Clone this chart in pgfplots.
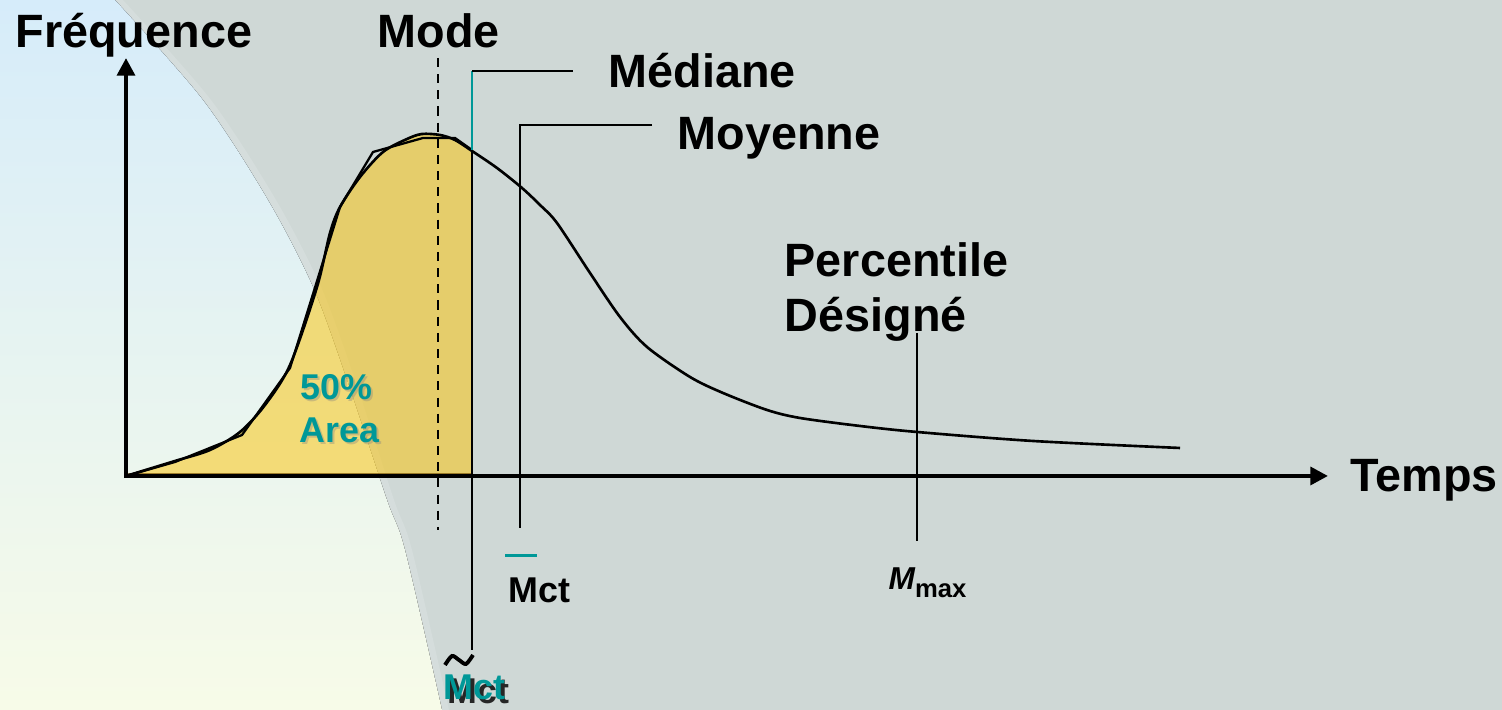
\documentclass[border=0pt]{standalone}
\usepackage{pgfplots}
\pgfplotsset{compat=1.18}
\usetikzlibrary{arrows.meta}
\usepackage{fontspec}
\setmainfont{Liberation Sans}
\definecolor{bggray}{RGB}{207,216,214}
\definecolor{bgband}{RGB}{213,221,220}
\definecolor{bgtop}{RGB}{214,236,250}
\definecolor{bgbot}{RGB}{247,251,232}
\definecolor{gold}{RGB}{251,196,10}
\definecolor{shadowbrown}{RGB}{120,85,10}
\definecolor{tealc}{RGB}{0,152,152}
\tikzset{
  big/.style={font=\fontsize{13.3}{15}\selectfont\bfseries, anchor=base west, inner sep=0pt},
  small/.style={font=\fontsize{10.2}{12}\selectfont\bfseries, anchor=base west, inner sep=0pt},
}
\begin{document}
\begin{tikzpicture}
\begin{axis}[
  width=15.02cm, height=7.1cm, scale only axis,
  xmin=0, xmax=1502, ymin=-234, ymax=476,
  hide axis, clip=false,
]
% background
\fill[bggray] (axis cs:0,-234) rectangle (axis cs:1502,476);
\fill[bgband] (axis cs:0,476) -- plot[smooth] coordinates {(123,476) (211,376) (276,276) (321,189) (355,96) (394,-24) (412,-74) (449,-234)} -- (axis cs:0,-234) -- cycle;
\fill[top color=bgtop, bottom color=bgbot] (axis cs:0,476) -- plot[smooth] coordinates {(115,476) (203,376) (268,276) (313,189) (347,96) (387,-24) (405,-74) (442,-234)} -- (axis cs:0,-234) -- cycle;

% 50% area fill
\addplot[draw=none, fill=gold, fill opacity=0.52, smooth] coordinates {
 (126,0) (175,15) (210,26) (240,44) (265,71) (290,111) (317,189) (330,243)
 (340,269) (360,299) (383,324) (407,337) (422,342) (440,341) (455,336) (472,325)} \closedcycle;
\addplot[shadowbrown, opacity=0.7, line width=0.6pt] coordinates {(128,1.8) (472,1.8)};

% distribution curve (smooth)
\addplot[black, line width=0.75pt, smooth] coordinates {
 (126,0) (175,15) (210,26) (240,44) (265,71) (290,111) (317,189) (330,243)
 (340,269) (360,299) (383,324) (407,337) (422,342) (440,341) (455,336)
 (472,325) (497,308) (522,288) (540,271) (557,253) (590,203) (620,159) (647,129)
 (690,99) (723,83) (767,66) (800,58) (860,50) (917,44) (1033,35) (1180,28)};

% polygon approximation
\addplot[black, line width=0.65pt] coordinates {
 (126,0) (175,14) (242,41) (290,108) (340,269) (373,324) (423,338) (455,338) (472,326)};

% reference lines
\addplot[black, line width=0.75pt, dash pattern=on 2.6pt off 2pt] coordinates {(438,418) (438,-54)};
\addplot[black, line width=0.6pt] coordinates {(472,326) (472,-174)};
\addplot[tealc, line width=0.6pt] coordinates {(472,405) (472,326)};
\addplot[black, line width=0.6pt] coordinates {(472,405) (573,405)};
\addplot[black, line width=0.6pt] coordinates {(652,351) (520,351) (520,-52)};
\addplot[black, line width=0.6pt] coordinates {(917,143) (917,-65)};
\addplot[tealc, line width=0.85pt] coordinates {(505,-80) (537,-80)};

% axes
\draw[line width=1.2pt, -{Triangle[length=5pt,width=5pt]}] (axis cs:124,0) -- (axis cs:1328,0);
\draw[line width=1.2pt, -{Triangle[length=5pt,width=5pt]}] (axis cs:126,-2) -- (axis cs:126,418);

% labels
\node[big] at (axis cs:15,428) {Fréquence};
\node[big] at (axis cs:377,428) {Mode};
\node[big] at (axis cs:608,388) {Médiane};
\node[big] at (axis cs:677,326) {Moyenne};
\node[big] at (axis cs:784,199) {Percentile};
\node[big] at (axis cs:784,144) {Désigné};
\node[big] at (axis cs:1350,-16) {Temps};

\node[small, text=gray, opacity=0.35] at (axis cs:302,74) {50\%};
\node[small, text=gray, opacity=0.35] at (axis cs:301,31) {Area};
\node[small, text=tealc] at (axis cs:300,76) {50\%};
\node[small, text=tealc] at (axis cs:299,33) {Area};

\node[small] at (axis cs:508,-127) {Mct};
\node[anchor=base west, inner sep=0pt] at (axis cs:888,-114)
 {\fontsize{9}{10}\selectfont\bfseries\itshape M\raisebox{-2pt}{\fontsize{7.3}{8}\selectfont\upshape max}};

\draw[black, line width=1.1pt] plot[smooth] coordinates {(445,-189) (452,-180) (459,-184) (466,-188) (473,-179)};
\node[small, text=black!85] at (axis cs:447,-228) {Mct};
\node[small, text=tealc] at (axis cs:443,-224) {Mct};
\end{axis}
\end{tikzpicture}
\end{document}
